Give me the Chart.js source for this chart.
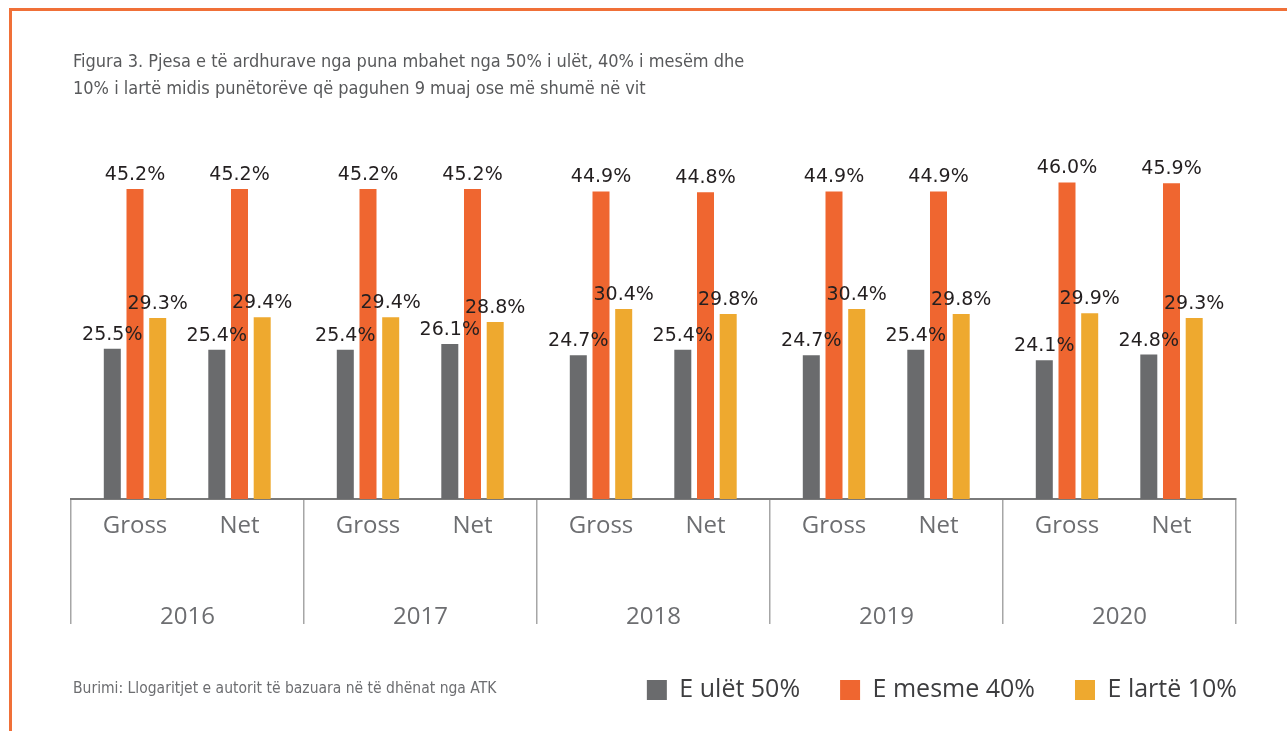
<!DOCTYPE html>
<html>
<head>
<meta charset="utf-8">
<script src="https://cdn.jsdelivr.net/npm/chart.js@4.4.1/dist/chart.umd.min.js"></script>
<style>
  html, body { margin: 0; padding: 0; background: #fff; }
  body { width: 1287px; height: 731px; position: relative; overflow: hidden; }
  #frame { position: absolute; left: 9px; top: 8px; width: 1400px; height: 800px;
           border-top: 3px solid #f07038; border-left: 3px solid #f07038; }
  #title { position: absolute; left: 73px; top: 47px; margin: 0;
           font: 18px/27px 'Liberation Sans Narrow', 'DejaVu Sans Condensed', sans-serif; color: #58595b; }
  #source { position: absolute; left: 73px; top: 678px; margin: 0;
            font: 15.5px/20px 'Liberation Sans Narrow', 'DejaVu Sans Condensed', sans-serif; color: #6d6e71; }
  #wrap { position: absolute; left: 0; top: 0; width: 1287px; height: 731px; }
</style>
</head>
<body>
<div id="frame"></div>
<div id="wrap"><canvas id="shareChart"></canvas></div>
<p id="title">Figura 3. Pjesa e të ardhurave nga puna mbahet nga 50% i ulët, 40% i mesëm dhe<br>10% i lartë midis punëtorëve që paguhen 9 muaj ose më shumë në vit</p>
<p id="source">Burimi: Llogaritjet e autorit të bazuara në të dhënat nga ATK</p>
<script>
const years = ['2016', '2017', '2018', '2019', '2020'];
const wageTypes = ['Gross', 'Net'];
const seriesNames = ['E ulët 50%', 'E mesme 40%', 'E lartë 10%'];
// one value per year x wage type: 2016 Gross, 2016 Net, 2017 Gross, ...
const bottom50 = [25.5, 25.4, 25.4, 26.1, 24.7, 25.4, 24.7, 25.4, 24.1, 24.8];
const middle40 = [45.2, 45.2, 45.2, 45.2, 44.9, 44.8, 44.9, 44.9, 46.0, 45.9];
const top10 = [29.3, 29.4, 29.4, 28.8, 30.4, 29.8, 30.4, 29.8, 29.9, 29.3];
const colors = ['#6a6b6d', '#ef6630', '#eea92f'];

// layout of the slots on the x axis (one group per year)
const groupWidth = 233;
const slotOffset = [64, 168.5];
const axisMax = years.length * groupWidth;

function slotX(i) {
    return Math.floor(i / wageTypes.length) * groupWidth + slotOffset[i % wageTypes.length];
}

let tickLabels = {};
let dividers = {};
let xTicks = [];
for (let g = 0; g <= years.length; g++) {
    dividers[g * groupWidth] = true;
    xTicks.push(g * groupWidth);
}
for (let i = 0; i < bottom50.length; i++) {
    tickLabels[slotX(i)] = wageTypes[i % wageTypes.length];
    xTicks.push(slotX(i));
}
xTicks.sort((a, b) => a - b);

function toPoints(values) {
    return values.map((v, i) => ({ x: slotX(i), y: v }));
}

const labelFont = { family: 'Open Sans', size: 24 };

const valueLabels = {
    id: 'valueLabels',
    afterDatasetsDraw(chart) {
        let ctx = chart.ctx;
        ctx.save();
        ctx.font = '19px "DejaVu Sans"';
        ctx.fillStyle = '#231f20';
        ctx.textAlign = 'center';
        ctx.textBaseline = 'alphabetic';
        chart.data.datasets.forEach((ds, i) => {
            chart.getDatasetMeta(i).data.forEach((bar, j) => {
                ctx.fillText(ds.data[j].y.toFixed(1) + '%', bar.x, bar.y - 9);
            });
        });
        ctx.restore();
    }
};

// push the legend a little to the right, past the plot edge
const legendShift = {
    id: 'legendShift',
    afterLayout(chart) {
        if (chart.legend) {
            chart.legend.left += 41;
            chart.legend.right += 41;
        }
    }
};

let ctx = document.getElementById('shareChart').getContext('2d');

let data = {
    datasets: [{
        label: seriesNames[0],
        data: toPoints(bottom50),
        backgroundColor: colors[0]
    }, {
        label: seriesNames[1],
        data: toPoints(middle40),
        backgroundColor: colors[1]
    }, {
        label: seriesNames[2],
        data: toPoints(top10),
        backgroundColor: colors[2]
    }]
};

let shareChart = new Chart(ctx, {
    type: 'bar',
    data: data,
    plugins: [valueLabels, legendShift],
    options: {
        responsive: true,
        maintainAspectRatio: false,
        animation: false,
        layout: { padding: { left: 71, right: 51, top: 150, bottom: 18.5 } },
        datasets: {
            bar: { categoryPercentage: 1.064, barPercentage: 0.749 }
        },
        scales: {
            x: {
                type: 'linear',
                min: 0,
                max: axisMax,
                offset: false,
                weight: 0,
                afterBuildTicks: axis => { axis.ticks = xTicks.map(v => ({ value: v })); },
                afterFit: axis => { axis.height = 42; },
                ticks: {
                    autoSkip: false,
                    maxRotation: 0,
                    padding: -112,
                    color: '#6d6e71',
                    font: labelFont,
                    callback: value => tickLabels[value] || ''
                },
                grid: {
                    offset: false,
                    drawOnChartArea: false,
                    tickLength: 125,
                    lineWidth: 1.5,
                    color: c => (c.tick && dividers[c.tick.value]) ? '#a6a6a6' : 'rgba(0,0,0,0)'
                },
                border: { display: true, color: '#7a7a7a', width: 2 }
            },
            x2: {
                type: 'linear',
                position: 'bottom',
                min: 0,
                max: axisMax,
                offset: false,
                weight: 1,
                afterBuildTicks: axis => {
                    axis.ticks = years.map((y, g) => ({ value: g * groupWidth + groupWidth / 2 }));
                },
                afterFit: axis => { axis.height = 96.5; },
                ticks: {
                    autoSkip: false,
                    maxRotation: 0,
                    padding: 62,
                    color: '#6d6e71',
                    font: labelFont,
                    callback: (value, i) => years[i]
                },
                grid: { display: false, drawTicks: false },
                border: { display: false }
            },
            y: {
                display: false,
                min: 7,
                max: 50
            }
        },
        plugins: {
            legend: {
                display: true,
                position: 'bottom',
                align: 'end',
                labels: {
                    boxWidth: 20,
                    boxHeight: 20,
                    padding: 40,
                    color: '#3d3d3f',
                    font: { family: 'Open Sans', size: 25 }
                }
            },
            tooltip: { enabled: false },
            title: { display: false }
        }
    }
});
</script>
</body>
</html>
